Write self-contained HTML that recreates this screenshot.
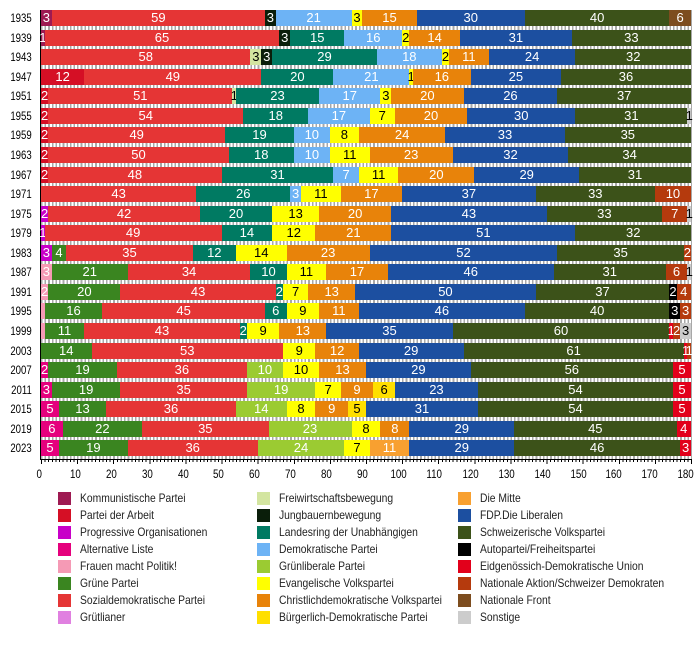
<!DOCTYPE html>
<html><head><meta charset="utf-8"><style>
*{margin:0;padding:0;box-sizing:border-box}
html,body{width:700px;height:650px;background:#fff;overflow:hidden}
body{position:relative;font-family:"Liberation Sans",Arial,sans-serif}
#grid{position:absolute;left:41px;top:10px;width:651px;height:449px;background-image:repeating-linear-gradient(90deg,#a8a8a8 0px,#a8a8a8 1.6px,#fff 1.6px,#fff 3.6111px)}
#yax{position:absolute;left:40px;top:10px;width:1px;height:450px;background:#000}
#bars{position:absolute;left:41px;top:10px;width:650px}
.r{position:relative;display:flex;height:16px;margin-bottom:3.577px}
.r b{position:absolute;right:100%;margin-right:9px;top:0;font-weight:normal;font-size:12px;line-height:16px;color:#000;transform:scaleX(.8);transform-origin:right center;white-space:nowrap}
.r i{flex:1 1 0px;min-width:0;display:flex;justify-content:center;align-items:center;font-style:normal;font-size:13px;line-height:16px;color:#fff;white-space:nowrap}
.km{background:#9e1a52}.pa{background:#d50f25}.po{background:#c800c8}.al{background:#e5007d}
.fm{background:#f59ab5}.gr{background:#3a8520}.sp{background:#e53535}.gt{background:#e080e0}
.fw{background:#d3e5a0;color:#000!important}.jb{background:#0a1e0a}.ld{background:#007a62}.dp{background:#6db3f5}
.gl{background:#9bcb32}.ev{background:#ffff00;color:#000!important}.cv{background:#e8830a}.bd{background:#ffdf00;color:#000!important}
.mi{background:#f8a030}.fd{background:#1c4fa0}.sv{background:#3c5219}.au{background:#000}
.ed{background:#e2001b}.na{background:#b53a0d}.nf{background:#7d4d1f}.so{background:#cccccc;color:#000!important}
#xax{position:absolute;left:41px;top:459px;width:651px;height:1px;background:#000}
#mint{position:absolute;left:41px;top:460px;width:651px;height:2px;background-image:repeating-linear-gradient(90deg,#000 0px,#000 1px,transparent 1px,transparent 3.6111px)}
#majt{position:absolute;left:41px;top:460px;width:651px;height:4px;background-image:repeating-linear-gradient(90deg,#000 0px,#000 1px,transparent 1px,transparent 36.111px)}
.tl{position:absolute;top:468px;width:40px;text-align:center;font-size:11.5px;line-height:14px;color:#000}
.tl span{display:inline-block;transform:scaleX(.85)}
.lg{position:absolute;height:13px;font-size:12px;line-height:13px;color:#222;white-space:nowrap}
.lg s{position:absolute;left:0;top:0;width:13px;height:13px;text-decoration:none}
.lg span{position:absolute;left:22px;top:0;display:inline-block;transform:scaleX(.86);transform-origin:left center}
</style></head><body>
<div id="grid"></div>
<div id="yax"></div>
<div id="bars">
<div class="r"><b>1935</b><i class="km" style="flex-grow:3">3</i><i class="sp" style="flex-grow:59">59</i><i class="jb" style="flex-grow:3">3</i><i class="dp" style="flex-grow:21">21</i><i class="ev" style="flex-grow:3">3</i><i class="cv" style="flex-grow:15">15</i><i class="fd" style="flex-grow:30">30</i><i class="sv" style="flex-grow:40">40</i><i class="nf" style="flex-grow:6">6</i></div>
<div class="r"><b>1939</b><i class="km" style="flex-grow:1">1</i><i class="sp" style="flex-grow:65">65</i><i class="jb" style="flex-grow:3">3</i><i class="ld" style="flex-grow:15">15</i><i class="dp" style="flex-grow:16">16</i><i class="ev" style="flex-grow:2">2</i><i class="cv" style="flex-grow:14">14</i><i class="fd" style="flex-grow:31">31</i><i class="sv" style="flex-grow:33">33</i></div>
<div class="r"><b>1943</b><i class="sp" style="flex-grow:58">58</i><i class="fw" style="flex-grow:3">3</i><i class="jb" style="flex-grow:3">3</i><i class="ld" style="flex-grow:29">29</i><i class="dp" style="flex-grow:18">18</i><i class="ev" style="flex-grow:2">2</i><i class="cv" style="flex-grow:11">11</i><i class="fd" style="flex-grow:24">24</i><i class="sv" style="flex-grow:32">32</i></div>
<div class="r"><b>1947</b><i class="pa" style="flex-grow:12">12</i><i class="sp" style="flex-grow:49">49</i><i class="ld" style="flex-grow:20">20</i><i class="dp" style="flex-grow:21">21</i><i class="ev" style="flex-grow:1">1</i><i class="cv" style="flex-grow:16">16</i><i class="fd" style="flex-grow:25">25</i><i class="sv" style="flex-grow:36">36</i></div>
<div class="r"><b>1951</b><i class="pa" style="flex-grow:2">2</i><i class="sp" style="flex-grow:51">51</i><i class="fw" style="flex-grow:1">1</i><i class="ld" style="flex-grow:23">23</i><i class="dp" style="flex-grow:17">17</i><i class="ev" style="flex-grow:3">3</i><i class="cv" style="flex-grow:20">20</i><i class="fd" style="flex-grow:26">26</i><i class="sv" style="flex-grow:37">37</i></div>
<div class="r"><b>1955</b><i class="pa" style="flex-grow:2">2</i><i class="sp" style="flex-grow:54">54</i><i class="ld" style="flex-grow:18">18</i><i class="dp" style="flex-grow:17">17</i><i class="ev" style="flex-grow:7">7</i><i class="cv" style="flex-grow:20">20</i><i class="fd" style="flex-grow:30">30</i><i class="sv" style="flex-grow:31">31</i><i class="so" style="flex-grow:1">1</i></div>
<div class="r"><b>1959</b><i class="pa" style="flex-grow:2">2</i><i class="sp" style="flex-grow:49">49</i><i class="ld" style="flex-grow:19">19</i><i class="dp" style="flex-grow:10">10</i><i class="ev" style="flex-grow:8">8</i><i class="cv" style="flex-grow:24">24</i><i class="fd" style="flex-grow:33">33</i><i class="sv" style="flex-grow:35">35</i></div>
<div class="r"><b>1963</b><i class="pa" style="flex-grow:2">2</i><i class="sp" style="flex-grow:50">50</i><i class="ld" style="flex-grow:18">18</i><i class="dp" style="flex-grow:10">10</i><i class="ev" style="flex-grow:11">11</i><i class="cv" style="flex-grow:23">23</i><i class="fd" style="flex-grow:32">32</i><i class="sv" style="flex-grow:34">34</i></div>
<div class="r"><b>1967</b><i class="pa" style="flex-grow:2">2</i><i class="sp" style="flex-grow:48">48</i><i class="ld" style="flex-grow:31">31</i><i class="dp" style="flex-grow:7">7</i><i class="ev" style="flex-grow:11">11</i><i class="cv" style="flex-grow:21">20</i><i class="fd" style="flex-grow:29">29</i><i class="sv" style="flex-grow:31">31</i></div>
<div class="r"><b>1971</b><i class="sp" style="flex-grow:43">43</i><i class="ld" style="flex-grow:26">26</i><i class="dp" style="flex-grow:3">3</i><i class="ev" style="flex-grow:11">11</i><i class="cv" style="flex-grow:17">17</i><i class="fd" style="flex-grow:37">37</i><i class="sv" style="flex-grow:33">33</i><i class="na" style="flex-grow:10">10</i></div>
<div class="r"><b>1975</b><i class="po" style="flex-grow:2">2</i><i class="sp" style="flex-grow:42">42</i><i class="ld" style="flex-grow:20">20</i><i class="ev" style="flex-grow:13">13</i><i class="cv" style="flex-grow:20">20</i><i class="fd" style="flex-grow:43">43</i><i class="sv" style="flex-grow:32">33</i><i class="na" style="flex-grow:7">7</i><i class="so" style="flex-grow:1">1</i></div>
<div class="r"><b>1979</b><i class="po" style="flex-grow:1">1</i><i class="sp" style="flex-grow:49">49</i><i class="ld" style="flex-grow:14">14</i><i class="ev" style="flex-grow:12">12</i><i class="cv" style="flex-grow:21">21</i><i class="fd" style="flex-grow:51">51</i><i class="sv" style="flex-grow:32">32</i></div>
<div class="r"><b>1983</b><i class="po" style="flex-grow:3">3</i><i class="gr" style="flex-grow:4">4</i><i class="sp" style="flex-grow:35">35</i><i class="ld" style="flex-grow:12">12</i><i class="ev" style="flex-grow:14">14</i><i class="cv" style="flex-grow:23">23</i><i class="fd" style="flex-grow:52">52</i><i class="sv" style="flex-grow:35">35</i><i class="na" style="flex-grow:2">2</i></div>
<div class="r"><b>1987</b><i class="fm" style="flex-grow:3">3</i><i class="gr" style="flex-grow:21">21</i><i class="sp" style="flex-grow:34">34</i><i class="ld" style="flex-grow:10">10</i><i class="ev" style="flex-grow:11">11</i><i class="cv" style="flex-grow:17">17</i><i class="fd" style="flex-grow:46">46</i><i class="sv" style="flex-grow:31">31</i><i class="na" style="flex-grow:6">6</i><i class="so" style="flex-grow:1">1</i></div>
<div class="r"><b>1991</b><i class="fm" style="flex-grow:2">2</i><i class="gr" style="flex-grow:20">20</i><i class="sp" style="flex-grow:43">43</i><i class="ld" style="flex-grow:2">2</i><i class="ev" style="flex-grow:7">7</i><i class="cv" style="flex-grow:13">13</i><i class="fd" style="flex-grow:50">50</i><i class="sv" style="flex-grow:37">37</i><i class="au" style="flex-grow:2">2</i><i class="na" style="flex-grow:4">4</i></div>
<div class="r"><b>1995</b><i class="fm" style="flex-grow:1"></i><i class="gr" style="flex-grow:16">16</i><i class="sp" style="flex-grow:45">45</i><i class="ld" style="flex-grow:6">6</i><i class="ev" style="flex-grow:9">9</i><i class="cv" style="flex-grow:11">11</i><i class="fd" style="flex-grow:46">46</i><i class="sv" style="flex-grow:40">40</i><i class="au" style="flex-grow:3">3</i><i class="na" style="flex-grow:3">3</i></div>
<div class="r"><b>1999</b><i class="fm" style="flex-grow:1"></i><i class="gr" style="flex-grow:11">11</i><i class="sp" style="flex-grow:43">43</i><i class="ld" style="flex-grow:2">2</i><i class="ev" style="flex-grow:9">9</i><i class="cv" style="flex-grow:13">13</i><i class="fd" style="flex-grow:35">35</i><i class="sv" style="flex-grow:60">60</i><i class="ed" style="flex-grow:1">1</i><i class="na" style="flex-grow:2">2</i><i class="so" style="flex-grow:3">3</i></div>
<div class="r"><b>2003</b><i class="gr" style="flex-grow:14">14</i><i class="sp" style="flex-grow:53">53</i><i class="ev" style="flex-grow:9">9</i><i class="cv" style="flex-grow:12">12</i><i class="fd" style="flex-grow:29">29</i><i class="sv" style="flex-grow:61">61</i><i class="ed" style="flex-grow:1">1</i><i class="na" style="flex-grow:1">1</i></div>
<div class="r"><b>2007</b><i class="al" style="flex-grow:2">2</i><i class="gr" style="flex-grow:19">19</i><i class="sp" style="flex-grow:36">36</i><i class="gl" style="flex-grow:10">10</i><i class="ev" style="flex-grow:10">10</i><i class="cv" style="flex-grow:13">13</i><i class="fd" style="flex-grow:29">29</i><i class="sv" style="flex-grow:56">56</i><i class="ed" style="flex-grow:5">5</i></div>
<div class="r"><b>2011</b><i class="al" style="flex-grow:3">3</i><i class="gr" style="flex-grow:19">19</i><i class="sp" style="flex-grow:35">35</i><i class="gl" style="flex-grow:19">19</i><i class="ev" style="flex-grow:7">7</i><i class="cv" style="flex-grow:9">9</i><i class="bd" style="flex-grow:6">6</i><i class="fd" style="flex-grow:23">23</i><i class="sv" style="flex-grow:54">54</i><i class="ed" style="flex-grow:5">5</i></div>
<div class="r"><b>2015</b><i class="al" style="flex-grow:5">5</i><i class="gr" style="flex-grow:13">13</i><i class="sp" style="flex-grow:36">36</i><i class="gl" style="flex-grow:14">14</i><i class="ev" style="flex-grow:8">8</i><i class="cv" style="flex-grow:9">9</i><i class="bd" style="flex-grow:5">5</i><i class="fd" style="flex-grow:31">31</i><i class="sv" style="flex-grow:54">54</i><i class="ed" style="flex-grow:5">5</i></div>
<div class="r"><b>2019</b><i class="al" style="flex-grow:6">6</i><i class="gr" style="flex-grow:22">22</i><i class="sp" style="flex-grow:35">35</i><i class="gl" style="flex-grow:23">23</i><i class="ev" style="flex-grow:8">8</i><i class="cv" style="flex-grow:8">8</i><i class="fd" style="flex-grow:29">29</i><i class="sv" style="flex-grow:45">45</i><i class="ed" style="flex-grow:4">4</i></div>
<div class="r"><b>2023</b><i class="al" style="flex-grow:5">5</i><i class="gr" style="flex-grow:19">19</i><i class="sp" style="flex-grow:36">36</i><i class="gl" style="flex-grow:24">24</i><i class="ev" style="flex-grow:7">7</i><i class="mi" style="flex-grow:11">11</i><i class="fd" style="flex-grow:29">29</i><i class="sv" style="flex-grow:46">46</i><i class="ed" style="flex-grow:3">3</i></div>
</div>
<div id="xax"></div>
<div id="mint"></div>
<div id="majt"></div>
<div class="tl" style="left:19.3px"><span>0</span></div>
<div class="tl" style="left:55.2px"><span>10</span></div>
<div class="tl" style="left:91.1px"><span>20</span></div>
<div class="tl" style="left:127.1px"><span>30</span></div>
<div class="tl" style="left:163px"><span>40</span></div>
<div class="tl" style="left:198.9px"><span>50</span></div>
<div class="tl" style="left:234.8px"><span>60</span></div>
<div class="tl" style="left:270.7px"><span>70</span></div>
<div class="tl" style="left:306.7px"><span>80</span></div>
<div class="tl" style="left:342.6px"><span>90</span></div>
<div class="tl" style="left:378.5px"><span>100</span></div>
<div class="tl" style="left:414.4px"><span>110</span></div>
<div class="tl" style="left:450.3px"><span>120</span></div>
<div class="tl" style="left:486.3px"><span>130</span></div>
<div class="tl" style="left:522.2px"><span>140</span></div>
<div class="tl" style="left:558.1px"><span>150</span></div>
<div class="tl" style="left:594px"><span>160</span></div>
<div class="tl" style="left:629.9px"><span>170</span></div>
<div class="tl" style="left:665.9px"><span>180</span></div>

<div class="lg" style="left:58px;top:492.3px"><s class="km"></s><span>Kommunistische Partei</span></div>
<div class="lg" style="left:58px;top:509.2px"><s class="pa"></s><span>Partei der Arbeit</span></div>
<div class="lg" style="left:58px;top:526.2px"><s class="po"></s><span>Progressive Organisationen</span></div>
<div class="lg" style="left:58px;top:543.1px"><s class="al"></s><span>Alternative Liste</span></div>
<div class="lg" style="left:58px;top:560px"><s class="fm"></s><span>Frauen macht Politik!</span></div>
<div class="lg" style="left:58px;top:577px"><s class="gr"></s><span>Grüne Partei</span></div>
<div class="lg" style="left:58px;top:593.9px"><s class="sp"></s><span>Sozialdemokratische Partei</span></div>
<div class="lg" style="left:58px;top:610.8px"><s class="gt"></s><span>Grütlianer</span></div>

<div class="lg" style="left:257px;top:492.3px"><s class="fw"></s><span>Freiwirtschaftsbewegung</span></div>
<div class="lg" style="left:257px;top:509.2px"><s class="jb"></s><span>Jungbauernbewegung</span></div>
<div class="lg" style="left:257px;top:526.2px"><s class="ld"></s><span>Landesring der Unabhängigen</span></div>
<div class="lg" style="left:257px;top:543.1px"><s class="dp"></s><span>Demokratische Partei</span></div>
<div class="lg" style="left:257px;top:560px"><s class="gl"></s><span>Grünliberale Partei</span></div>
<div class="lg" style="left:257px;top:577px"><s class="ev"></s><span>Evangelische Volkspartei</span></div>
<div class="lg" style="left:257px;top:593.9px"><s class="cv"></s><span>Christlichdemokratische Volkspartei</span></div>
<div class="lg" style="left:257px;top:610.8px"><s class="bd"></s><span>Bürgerlich-Demokratische Partei</span></div>

<div class="lg" style="left:458px;top:492.3px"><s class="mi"></s><span>Die Mitte</span></div>
<div class="lg" style="left:458px;top:509.2px"><s class="fd"></s><span>FDP.Die Liberalen</span></div>
<div class="lg" style="left:458px;top:526.2px"><s class="sv"></s><span>Schweizerische Volkspartei</span></div>
<div class="lg" style="left:458px;top:543.1px"><s class="au"></s><span>Autopartei/Freiheitspartei</span></div>
<div class="lg" style="left:458px;top:560px"><s class="ed"></s><span>Eidgenössich-Demokratische Union</span></div>
<div class="lg" style="left:458px;top:577px"><s class="na"></s><span>Nationale Aktion/Schweizer Demokraten</span></div>
<div class="lg" style="left:458px;top:593.9px"><s class="nf"></s><span>Nationale Front</span></div>
<div class="lg" style="left:458px;top:610.8px"><s class="so"></s><span>Sonstige</span></div>
</body></html>
